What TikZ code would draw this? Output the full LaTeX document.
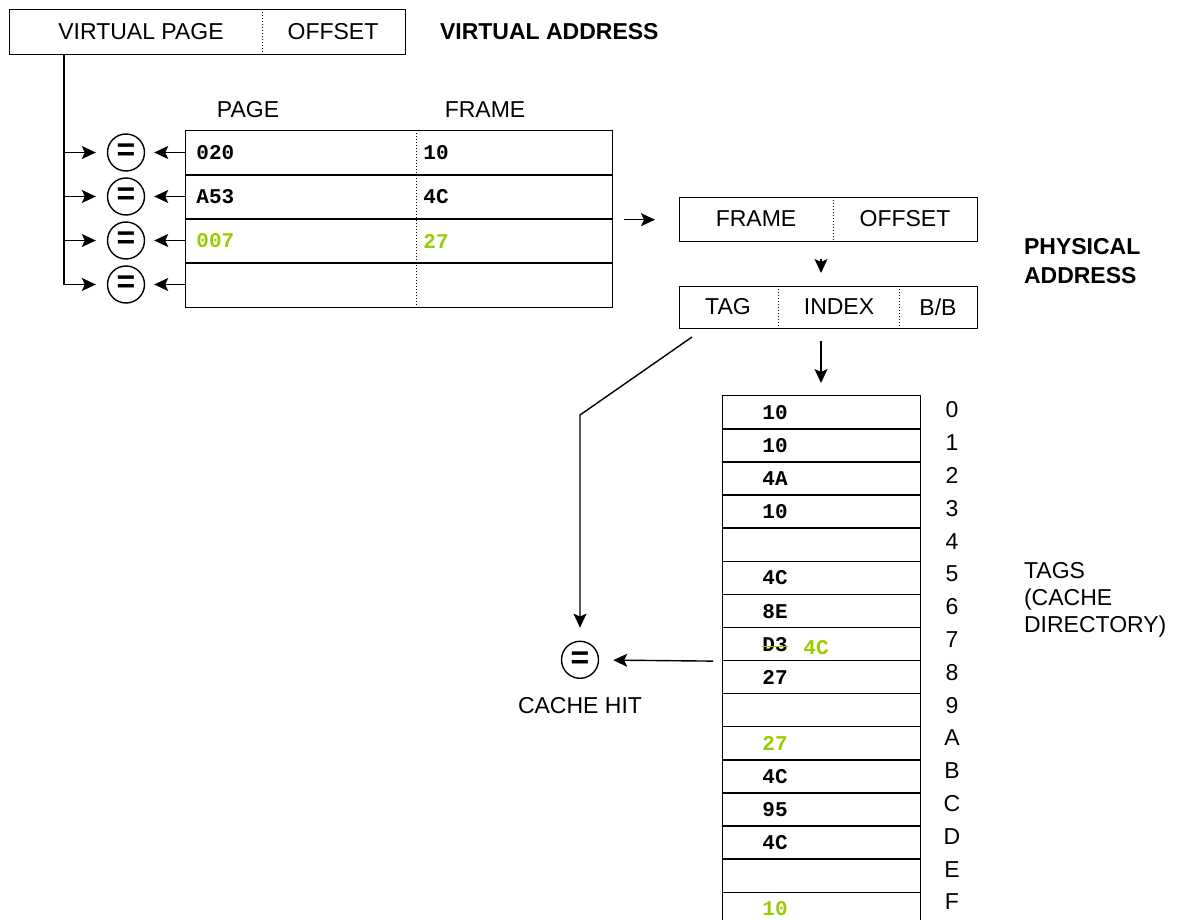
\documentclass[tikz,border=0pt]{standalone}
\usepackage{fontspec}
\setmainfont{Liberation Sans}
\newfontfamily\codefont{Liberation Mono}
\usetikzlibrary{arrows.meta,positioning}
\definecolor{hitgreen}{RGB}{153,204,0}

\begin{document}
\begin{tikzpicture}[x=0.5pt,y=-0.5pt,
  >={Stealth[length=7pt,width=6.5pt,inset=1.5pt]},
  every node/.style={font=\fontsize{11.5}{13.5}\selectfont},
  box/.style={draw,line width=0.7pt,inner sep=0pt,anchor=north west},
  sep/.style={densely dotted,line width=0.5pt},
  code/.style={font=\codefont\bfseries\fontsize{10.5}{12}\selectfont,anchor=west,inner sep=0pt},
  eq/.style={draw,circle,line width=0.7pt,minimum size=18.5pt,inner sep=0pt,font=\bfseries\fontsize{16}{16}\selectfont},
  link/.style={line width=0.7pt}]
\useasboundingbox (0,0) rectangle (1179,920);
\clip (0,0) rectangle (1179,920);

% virtual address
\node[box,minimum width=198pt,minimum height=22.5pt] (va) at (9,9) {};
\draw[sep] (262,9) -- (262,54);
\node (vpage) at (141,32) {VIRTUAL PAGE};
\node (voff) at (333,32) {OFFSET};
\node[anchor=west,font=\bfseries\fontsize{11.5}{13.5}\selectfont] (vaname) at (433,32) {VIRTUAL ADDRESS};

% page table (TLB)
\node (pagehd) at (248,110) {PAGE};
\node (framehd) at (485,110) {FRAME};
\node[box,minimum width=213.5pt,minimum height=88.5pt] (pt) at (185,130) {};
\foreach \y in {175,219,263} {
\draw[link] (185,\y) -- (612,\y);
}
\draw[sep] (416,130) -- (416,307);

\foreach \r/\pg/\fr/\col in {0/020/10/black,1/A53/4C/black,2/007/27/hitgreen,3/{}/{}/black} {
\node[eq] (eq\r) at (126,152.5+44*\r) {=};
\coordinate (bus\r) at (64,152.5+44*\r);
\node[code,text=\col] (page\r) at (196,153+44*\r) {\pg};
\node[code,text=\col] (frame\r) at (423,153+44*\r) {\fr};
\draw[link,->,shorten >=5.5pt] (bus\r) -- (eq\r);
\draw[link,->,shorten >=4.5pt] (pt.west |- eq\r) -- (eq\r);
}
\draw[link] (va.south -| bus0) -- (bus3);

% physical address
\node[box,minimum width=149pt,minimum height=22pt] (pa) at (679,197) {};
\draw[sep] (833,197) -- (833,241);
\node (paframe) at (756,219) {FRAME};
\node (paoff) at (905,219) {OFFSET};
\draw[link,->,shorten <=5.5pt,shorten >=12pt] (pt.east |- pa) -- (pa);

\node[box,minimum width=149pt,minimum height=21pt] (ca) at (679,286) {};
\draw[sep] (778,286) -- (778,328);
\draw[sep] (899,286) -- (899,328);
\node (catag) at (728,307) {TAG};
\node (caidx) at (839,307) {INDEX};
\node (cabb) at (938,307) {B/B};
\node[anchor=west,align=left,font=\bfseries\fontsize{11.5}{14.5}\selectfont] (paname) at (1017,261) {PHYSICAL\\ADDRESS};

\coordinate (idx) at (821,0);
\draw[link,->,shorten <=8.5pt,shorten >=6.5pt] (pa.south -| idx) -- (ca.north -| idx);

% tag directory
\foreach \i/\tg/\col in {0/10/black,1/10/black,2/4A/black,3/10/black,4/{}/black,5/4C/black,6/8E/black,7/D3/black,8/27/black,9/{}/black,10/27/hitgreen,11/4C/black,12/95/black,13/4C/black,14/{}/black,15/10/hitgreen} {
\node[box,minimum width=99pt,minimum height=16.55pt] (tag\i) at (722,395+33.1*\i) {};
\node[code,text=\col] (tagval\i) at (762,412.5+33.1*\i) {\tg};
}
\foreach \i/\h in {0/0,1/1,2/2,3/3,4/4,5/5,6/6,7/7,8/8,9/9,10/A,11/B,12/C,13/D,14/E,15/F} {
\node (row\i) at (952,410+32.8*\i) {\h};
}
\node[code,text=hitgreen] (newtag) at (803,648) {4C};
\draw[hitgreen,line width=0.6pt] ([yshift=2.5pt]tagval7.south west) -- ([yshift=2.5pt]tagval7.south east);
\node[anchor=west,align=left,font=\fontsize{11.5}{13.5}\selectfont] (tagsname) at (1017,600) {TAGS\\(CACHE\\DIRECTORY)};

\draw[link,->,shorten <=6pt,shorten >=6pt] (ca.south -| idx) -- (tag0.north -| idx);

% hit check
\node[eq] (hit) at (580,659.8) {=};
\node (hitname) at (580,706) {CACHE HIT};
\coordinate (tagtap) at (692,337);
\coordinate (bend) at (580,415);
\draw[link,->,shorten >=6.5pt] (tagtap) -- (bend) -- (hit);
\draw[link,->,shorten <=4.5pt,shorten >=7pt] (tag7.south west) -- (hit);
\end{tikzpicture}
\end{document}
